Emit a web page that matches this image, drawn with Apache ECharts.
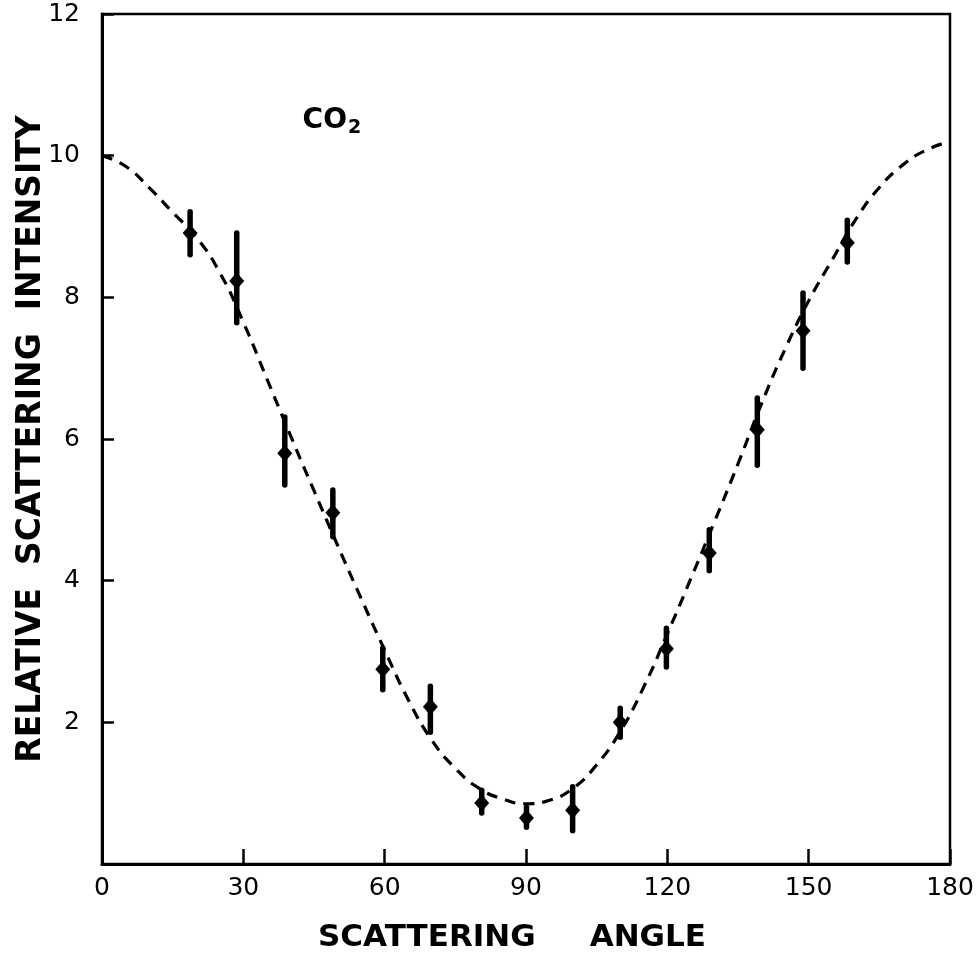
<!DOCTYPE html>
<html lang="en">
<head>
  <meta http-equiv="Content-Type" content="text/html; charset=UTF-8">
  <title>CO2 scattering</title>
  <style>html, body { margin: 0; padding: 0; background: #fff; }</style>
</head>
<body>
  <div id="chart" style="width: 980px; height: 959px;"></div>
  <script src="https://cdn.jsdelivr.net/npm/echarts@6/dist/echarts.min.js"></script>
  <script>
    // measured points, angle in degrees
    const angles = [18.7, 28.6, 38.8, 49.0, 59.6, 69.7, 80.6, 90.1, 99.9, 110.0, 119.8, 128.9, 139.1, 148.8, 158.2];
    const intensity = [8.91, 8.23, 5.80, 4.96, 2.75, 2.22, 0.86, 0.65, 0.76, 2.00, 3.04, 4.39, 6.13, 7.53, 8.77];
    const errHigh = [9.21, 8.91, 6.31, 5.28, 3.05, 2.51, 1.04, 0.80, 1.09, 2.20, 3.33, 4.72, 6.58, 8.06, 9.09];
    const errLow = [8.60, 7.64, 5.35, 4.62, 2.46, 1.86, 0.72, 0.52, 0.47, 1.79, 2.78, 4.14, 5.63, 7.00, 8.50];

    // dashed curve, every 5 degrees
    const curveAngles = [0, 5, 10, 15, 20, 25, 30, 35, 40, 45, 50, 55, 60, 65, 70, 75, 80, 85, 90,
      95, 100, 105, 110, 115, 120, 125, 130, 135, 140, 145, 150, 155, 160, 165, 170, 175, 180];
    const curveValues = [10.0, 9.85, 9.55, 9.2, 8.85, 8.35, 7.65, 6.85, 6.05, 5.27, 4.5, 3.75, 3.02, 2.32, 1.75, 1.35, 1.07, 0.92, 0.85,
      0.9, 1.07, 1.4, 1.87, 2.5, 3.25, 4.03, 4.83, 5.65, 6.5, 7.27, 7.95, 8.53, 9.1, 9.55, 9.87, 10.08, 10.2];

    const gasLabel = [48.8, 10.5];

    const font = 'DejaVu Sans';
    const chart = echarts.init(document.getElementById('chart'));

    chart.setOption({
      backgroundColor: '#fff',
      animation: false,
      grid: {
        left: 102, right: 30, top: 14, bottom: 95,
        outerBoundsMode: 'none',
        show: true, borderColor: '#000', borderWidth: 2.5
      },
      xAxis: {
        type: 'value', min: 0, max: 180, interval: 30,
        name: 'SCATTERING     ANGLE',
        nameLocation: 'middle', nameGap: 58, nameMoveOverlap: false,
        nameTextStyle: { fontFamily: font, fontWeight: 'bold', fontSize: 31, color: '#000', padding: [0, 28, 0, 0] },
        axisLine: { lineStyle: { color: '#000', width: 3 } },
        axisTick: { inside: true, length: 15, lineStyle: { color: '#000', width: 2.5 } },
        axisLabel: { fontFamily: font, fontSize: 25, color: '#000', margin: 12 },
        splitLine: { show: false }
      },
      yAxis: {
        type: 'value', min: 0, max: 12, interval: 2,
        name: 'RELATIVE  SCATTERING  INTENSITY',
        nameLocation: 'middle', nameGap: 54, nameMoveOverlap: false,
        nameTextStyle: { fontFamily: font, fontWeight: 'bold', fontSize: 33, color: '#000' },
        axisLine: { lineStyle: { color: '#000', width: 3 } },
        axisTick: { inside: true, length: 12, lineStyle: { color: '#000', width: 2.5 } },
        axisLabel: {
          fontFamily: font, fontSize: 25, color: '#000', margin: 22,
          formatter: v => (v === 0 ? '' : v)
        },
        splitLine: { show: false }
      },
      series: [
        {
          type: 'line',
          data: curveAngles.map((a, i) => [a, curveValues[i]]),
          smooth: 0.5,
          showSymbol: false,
          lineStyle: { color: '#000', width: 3.2, type: [11, 8] },
          z: 2
        },
        {
          type: 'custom',
          data: angles.map((a, i) => [a, errLow[i], errHigh[i]]),
          renderItem: (params, api) => {
            const lo = api.coord([api.value(0), api.value(1)]);
            const hi = api.coord([api.value(0), api.value(2)]);
            return {
              type: 'line',
              shape: { x1: lo[0], y1: lo[1], x2: hi[0], y2: hi[1] },
              style: { stroke: '#000', lineWidth: 5.5, lineCap: 'round' }
            };
          },
          z: 3
        },
        {
          type: 'scatter',
          data: angles.map((a, i) => [a, intensity[i]]),
          symbol: 'diamond',
          symbolSize: [15, 17],
          itemStyle: { color: '#000', opacity: 1 },
          z: 4
        },
        {
          type: 'scatter',
          data: [gasLabel],
          symbolSize: 1,
          itemStyle: { color: 'rgba(0,0,0,0)', opacity: 1 },
          label: {
            show: true, position: 'inside', color: '#000',
            formatter: '{a|CO}{b|2}',
            rich: {
              a: { fontFamily: font, fontWeight: 'bold', fontSize: 28, color: '#000' },
              b: { fontFamily: font, fontWeight: 'bold', fontSize: 19, color: '#000', padding: [16, 0, 0, 1] }
            }
          }
        }
      ]
    });
  </script>
</body>
</html>
